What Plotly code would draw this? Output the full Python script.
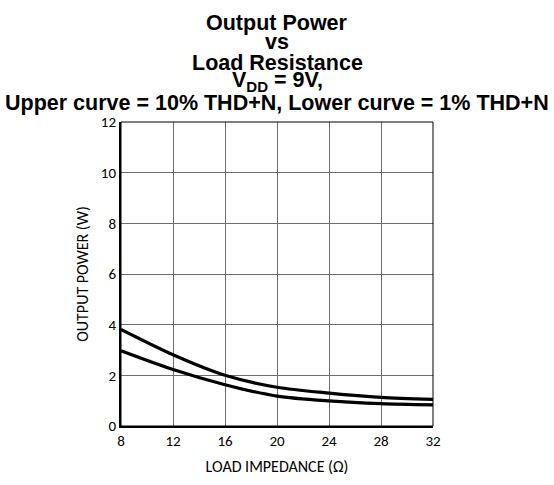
import plotly.graph_objects as go

load_ohm = [8, 12, 16, 20, 24, 28, 32]
p_10pct = [3.81, 2.81, 2.00, 1.53, 1.30, 1.13, 1.05]
p_1pct = [2.97, 2.23, 1.63, 1.18, 0.99, 0.88, 0.83]

x_ticks = [8, 12, 16, 20, 24, 28, 32]
y_ticks = [0, 2, 4, 6, 8, 10, 12]

title_lines = [
    "Output Power",
    "vs",
    "Load Resistance",
    "V<sub>DD</sub> = 9V,",
    "Upper curve = 10% THD+N, Lower curve = 1% THD+N",
]
title_centers_px = [20, 40, 61, 80, 102]

W, H = 554, 485
ML, MR, MT, MB = 121, 121, 122, 51

fig = go.Figure()
for yv, name in [(p_10pct, "10% THD+N"), (p_1pct, "1% THD+N")]:
    fig.add_trace(go.Scatter(x=load_ohm, y=yv, mode="lines", name=name,
                             line=dict(color="black", width=3.2, shape="spline", smoothing=0.8),
                             showlegend=False))

plot_h = H - MT - MB
anns = []
for txt, cy in zip(title_lines, title_centers_px):
    anns.append(dict(text=f"<b>{txt}</b>", xref="paper", yref="paper",
                     x=0.5, y=(H - MB - cy) / plot_h, xanchor="center", yanchor="middle",
                     showarrow=False,
                     font=dict(family="Liberation Sans, Arial", size=21.5, color="black")))

fig.update_layout(
    width=W, height=H,
    margin=dict(l=ML, r=MR, t=MT, b=MB),
    paper_bgcolor="white", plot_bgcolor="white",
    annotations=anns,
    font=dict(family="Carlito, Noto Sans, sans-serif", size=15, color="black"),
    shapes=[dict(type="rect", xref="paper", yref="paper", x0=0, x1=1, y0=0, y1=1,
                 line=dict(color="black", width=1))],
)
fig.update_xaxes(range=[8, 32], tickvals=x_ticks, showgrid=True, gridcolor="#6e6e6e", gridwidth=1,
                 showline=True, linecolor="black", linewidth=2, zeroline=False, ticks="",
                 title=dict(text="LOAD IMPEDANCE (Ω)", standoff=12, font=dict(size=16)),
                 tickfont=dict(size=15))
fig.update_yaxes(range=[0, 12], tickvals=y_ticks, showgrid=True, gridcolor="#6e6e6e", gridwidth=1,
                 showline=True, linecolor="black", linewidth=2, zeroline=False, ticks="",
                 title=dict(text="OUTPUT POWER (W)", standoff=8, font=dict(size=16)),
                 tickfont=dict(size=15))

fig.write_html("out.html")
